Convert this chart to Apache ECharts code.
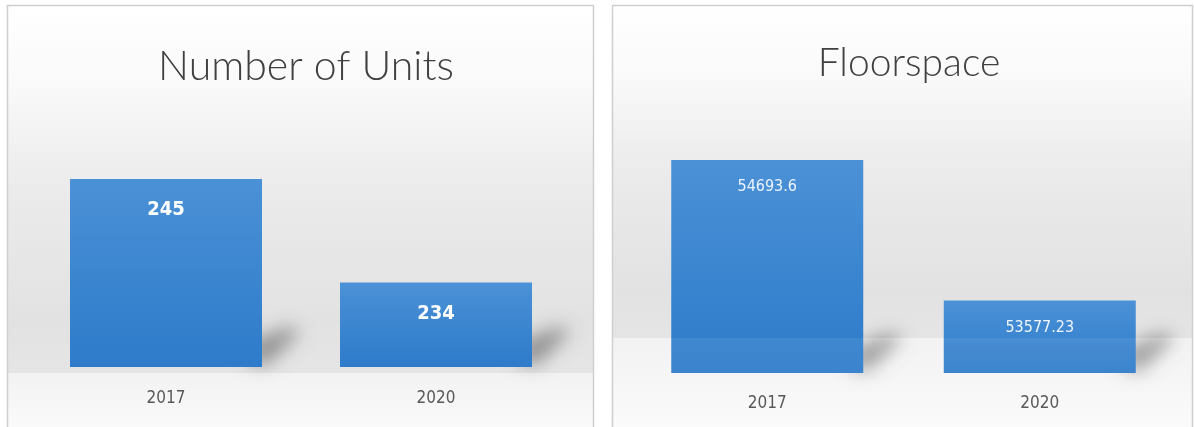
<!DOCTYPE html>
<html>
<head>
<meta charset="utf-8">
<title>Number of Units and Floorspace</title>
<script src="https://cdn.jsdelivr.net/npm/echarts@6/dist/echarts.min.js"></script>
<style>
  html, body { margin: 0; padding: 0; background: #ffffff; }
  #chart { width: 1194px; height: 427px; }
</style>
</head>
<body>
<div id="chart"></div>
<script>
// Survey years shown on both panels
const years = ['2017', '2020'];

// Left panel: number of units
const unitsTitle = 'Number of Units';
const unitsValues = [245, 234];

// Right panel: floorspace
const floorTitle = 'Floorspace';
const floorValues = [54693.6, 53577.23];

const narrowFont = "'DejaVu Sans Condensed', 'Roboto', 'Liberation Sans', sans-serif";

const chart = echarts.init(document.getElementById('chart'), null, { renderer: 'canvas' });

const barGradient = new echarts.graphic.LinearGradient(0, 0, 0, 1, [
  { offset: 0, color: '#4b91d6' },
  { offset: 1, color: '#2d7bca' }
]);

// Soft cast shadow at the foot of each bar. The solid shape sits off to the
// side and only its blurred canvas shadow lands beside the bar.
const SHADOW_SHIFT = 3000;
function footShadow(params, api) {
  const top = api.coord([api.value(0), api.value(1)]);
  const halfW = api.size([1, 0])[0] * 0.355;
  const base = api.coord([api.value(0), api.value(2)]);
  const x = top[0] + halfW - SHADOW_SHIFT;
  const y = base[1];
  return {
    type: 'polygon',
    shape: {
      points: [[x - 12, y - 3], [x - 12, y - 26], [x + 28, y - 40], [x + 38, y - 35], [x + 6, y - 3]]
    },
    style: {
      fill: '#000000',
      shadowBlur: 18,
      shadowOffsetX: SHADOW_SHIFT,
      shadowColor: 'rgba(0,0,0,0.36)'
    },
    silent: true
  };
}

const panelBg = new echarts.graphic.LinearGradient(0, 0, 0, 1, [
  { offset: 0, color: '#ffffff' },
  { offset: 0.2, color: '#fafafa' },
  { offset: 0.5, color: '#ebebeb' },
  { offset: 0.86, color: '#e2e2e2' },
  { offset: 1, color: '#e5e5e5' }
]);
const floorBg = new echarts.graphic.LinearGradient(0, 0, 0, 1, [
  { offset: 0, color: '#f2f2f2' },
  { offset: 1, color: '#fbfbfb' }
]);

const unitsMin = 225, unitsMax = 250;
const floorMin = 53000, floorMax = 55000;

const option = {
  backgroundColor: '#ffffff',
  animation: false,
  graphic: [
    // left panel frame and backdrop
    { type: 'rect', z: -10, shape: { x: 7, y: 5, width: 587, height: 368 }, style: { fill: panelBg } },
    { type: 'rect', z: -10, shape: { x: 7, y: 373, width: 587, height: 60 }, style: { fill: floorBg } },
    { type: 'rect', z: -9, shape: { x: 7.5, y: 5.5, width: 586, height: 430 }, style: { fill: 'none', stroke: '#cfcfcf', lineWidth: 1.5 } },
    // right panel frame and backdrop
    { type: 'rect', z: -10, shape: { x: 612, y: 5, width: 581, height: 333 }, style: { fill: panelBg } },
    { type: 'rect', z: -10, shape: { x: 612, y: 338, width: 581, height: 95 }, style: { fill: floorBg } },
    { type: 'rect', z: -9, shape: { x: 612.5, y: 5.5, width: 580, height: 430 }, style: { fill: 'none', stroke: '#cfcfcf', lineWidth: 1.5 } },
    // faint sheen where the floor meets the bars on the right panel
    { type: 'rect', z: 10, silent: true, shape: { x: 613, y: 338, width: 579, height: 35 }, style: { fill: 'rgba(255,255,255,0.07)' } }
  ],
  title: [
    {
      text: unitsTitle, left: 301, top: 41, textAlign: 'center',
      textStyle: { fontFamily: 'Lato', fontWeight: 300, fontSize: 41, color: '#404040' }
    },
    {
      text: floorTitle, left: 904, top: 39, textAlign: 'center',
      textStyle: { fontFamily: 'Lato', fontWeight: 300, fontSize: 39, color: '#404040' }
    }
  ],
  grid: [
    { left: 31, width: 540, top: 132, bottom: 60 },
    { left: 631, width: 545, top: 121.5, bottom: 54 }
  ],
  xAxis: [
    {
      type: 'category', gridIndex: 0, data: years,
      axisLine: { show: false }, axisTick: { show: false },
      axisLabel: { margin: 23, fontFamily: narrowFont, fontSize: 17, color: '#595959' }
    },
    {
      type: 'category', gridIndex: 1, data: years,
      axisLine: { show: false }, axisTick: { show: false },
      axisLabel: { margin: 22, fontFamily: narrowFont, fontSize: 17, color: '#595959' }
    }
  ],
  yAxis: [
    { type: 'value', gridIndex: 0, min: unitsMin, max: unitsMax, show: false, splitLine: { show: false } },
    { type: 'value', gridIndex: 1, min: floorMin, max: floorMax, show: false, splitLine: { show: false } }
  ],
  series: [
    {
      type: 'custom', xAxisIndex: 0, yAxisIndex: 0, z: 1, silent: true, clip: false,
      renderItem: footShadow,
      data: unitsValues.map((v, i) => [i, v, unitsMin])
    },
    {
      type: 'custom', xAxisIndex: 1, yAxisIndex: 1, z: 1, silent: true, clip: false,
      renderItem: footShadow,
      data: floorValues.map((v, i) => [i, v, floorMin])
    },
    {
      name: unitsTitle, type: 'bar', xAxisIndex: 0, yAxisIndex: 0, z: 2,
      barWidth: 192, data: unitsValues,
      itemStyle: { color: barGradient },
      label: {
        show: true, position: 'insideTop', distance: 21,
        fontFamily: narrowFont, fontWeight: 'bold', fontSize: 20, color: '#ffffff'
      }
    },
    {
      name: floorTitle, type: 'bar', xAxisIndex: 1, yAxisIndex: 1, z: 2,
      barWidth: 192, data: floorValues,
      itemStyle: { color: barGradient },
      label: {
        show: true, position: 'insideTop', distance: 19,
        fontFamily: narrowFont, fontSize: 16, color: '#eef5ff'
      }
    }
  ]
};

chart.setOption(option);
</script>
</body>
</html>
